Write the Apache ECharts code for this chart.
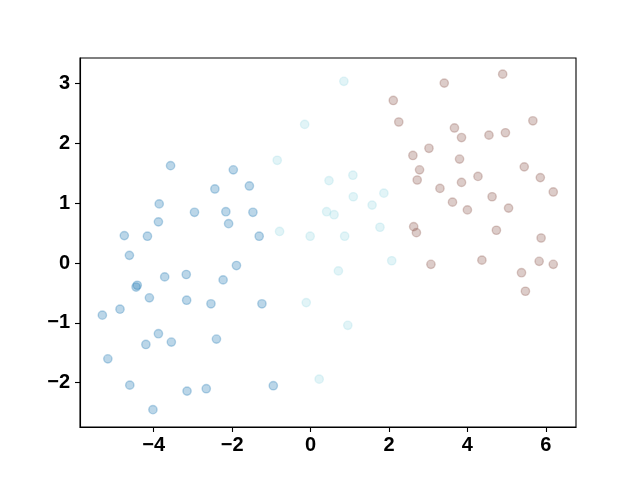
<!DOCTYPE html>
<html>
<head>
<meta charset="utf-8">
<script src="https://cdn.jsdelivr.net/npm/echarts@6/dist/echarts.min.js"></script>
<style>html,body{margin:0;padding:0;background:#fff}#c{width:640px;height:480px}</style>
</head>
<body>
<div id="c"></div>
<script>
var blueX = [-3.57,-1.97,-2.44,-1.56,-3.86,-2.96,-2.16,-1.47,-3.88,-2.09,-4.75,-4.16,-1.31,-4.62,-1.89,-3.72,-3.17,-2.23,-4.42,-4.45,
             -4.11,-3.16,-2.54,-1.24,-5.31,-4.86,-3.88,-4.20,-3.55,-2.40,-5.17,-4.61,-3.15,-2.66,-0.95,-4.02];
var blueY = [1.63,1.56,1.24,1.29,0.99,0.85,0.86,0.85,0.69,0.66,0.46,0.45,0.45,0.13,-0.04,-0.23,-0.19,-0.28,-0.37,-0.40,
             -0.58,-0.62,-0.68,-0.68,-0.87,-0.77,-1.18,-1.36,-1.32,-1.27,-1.60,-2.04,-2.14,-2.10,-2.05,-2.45];
var cyanX = [-0.15,-0.85,0.47,1.08,1.09,1.87,1.57,0.41,0.60,1.77,-0.79,-0.01,0.87,0.71,2.07,-0.11,0.95,0.22,0.85];
var cyanY = [2.32,1.72,1.38,1.47,1.11,1.17,0.97,0.86,0.81,0.60,0.53,0.45,0.45,-0.13,0.04,-0.66,-1.04,-1.94,3.04];
var brownX = [4.90,3.41,2.11,2.25,5.67,3.67,3.85,4.55,4.97,3.02,2.61,3.80,2.78,5.45,2.72,4.27,3.85,5.86,3.30,6.19,3.62,4.63,
              4.00,5.05,2.63,2.70,4.74,5.88,3.07,4.37,5.83,6.19,5.38,5.48];
var brownY = [3.16,3.01,2.72,2.36,2.38,2.26,2.10,2.14,2.18,1.92,1.80,1.74,1.56,1.61,1.39,1.45,1.35,1.43,1.25,1.19,1.02,1.11,
              0.89,0.92,0.61,0.51,0.55,0.42,-0.02,0.05,0.03,-0.02,-0.16,-0.47];
var xTicks = [-4,-2,0,2,4,6];
var yTicks = [-2,-1,0,1,2,3];

function pairs(xs, ys){ return xs.map(function(x,i){ return [x, ys[i]]; }); }
function fmt(v){ return String(v).replace('-', '\u2212'); }
var font = {fontFamily:'Liberation Sans', fontWeight:'bold', fontSize:20, color:'#000'};
function ser(data, rgb){
  return {type:'scatter', data:data, symbolSize:8.33,
    itemStyle:{color:'rgba('+rgb+',0.3)', borderColor:'rgba('+rgb+',0.3)', borderWidth:1.39, opacity:1},
    emphasis:{disabled:true}, animation:false};
}
var chart = echarts.init(document.getElementById('c'), null, {renderer:'canvas'});
chart.setOption({
  animation:false,
  grid:{left:80, right:64, top:58, bottom:53, show:true, borderColor:'#000', borderWidth:1.1, backgroundColor:'transparent'},
  xAxis:{type:'value', min:-5.88, max:6.77,
    axisLine:{show:true, onZero:false, lineStyle:{color:'#000', width:1.1}},
    axisTick:{show:true, customValues:xTicks, length:5, lineStyle:{color:'#000', width:1.1}},
    axisLabel:Object.assign({customValues:xTicks, margin:8, formatter:fmt}, font),
    splitLine:{show:false}},
  yAxis:{type:'value', min:-2.74, max:3.43,
    axisLine:{show:true, onZero:false, lineStyle:{color:'#000', width:1.1}},
    axisTick:{show:true, customValues:yTicks, length:5, lineStyle:{color:'#000', width:1.1}},
    axisLabel:Object.assign({customValues:yTicks, margin:10, formatter:fmt}, font),
    splitLine:{show:false}},
  series:[ser(pairs(blueX,blueY),'31,119,180'), ser(pairs(cyanX,cyanY),'158,218,229'), ser(pairs(brownX,brownY),'140,86,75')]
});
</script>
</body>
</html>
